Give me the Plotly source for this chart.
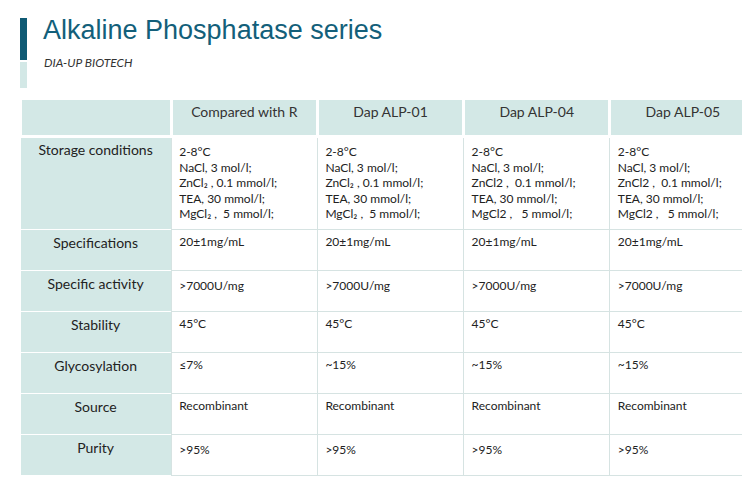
import plotly.graph_objects as go

headers = ["", "Compared with R", "Dap ALP-01", "Dap ALP-04", "Dap ALP-05"]
rows = ["Storage conditions", "Specifications", "Specific activity", "Stability",
        "Glycosylation", "Source", "Purity"]
storage_r = "2-8°C<br>NaCl, 3 mol/l;<br>ZnCl₂ , 0.1 mmol/l;<br>TEA, 30 mmol/l;<br>MgCl₂ ,  5 mmol/l;"
storage_n = "2-8°C<br>NaCl, 3 mol/l;<br>ZnCl2 ,  0.1 mmol/l;<br>TEA, 30 mmol/l;<br>MgCl2 ,   5 mmol/l;"
col_r = [storage_r, "20±1mg/mL", ">7000U/mg", "45°C", "≤7%", "Recombinant", ">95%"]
col_01 = [storage_r, "20±1mg/mL", ">7000U/mg", "45°C", "~15%", "Recombinant", ">95%"]
col_04 = [storage_n, "20±1mg/mL", ">7000U/mg", "45°C", "~15%", "Recombinant", ">95%"]
col_05 = [storage_n, "20±1mg/mL", ">7000U/mg", "45°C", "~15%", "Recombinant", ">95%"]

teal = "#d3e8e6"
W, H = 750, 486
fig = go.Figure()
fig.add_trace(go.Table(
    domain=dict(x=[12/W, 748/W], y=[0, 1-90/H]),
    columnwidth=[151, 146, 146, 146, 146],
    header=dict(values=headers, fill_color=teal, height=38,
                line=dict(color="white", width=3),
                font=dict(family="Lato", size=14, color="#333"), align="center"),
    cells=dict(values=[rows, col_r, col_01, col_04, col_05],
               fill_color=[[teal]*7] + [["white"]*7]*4,
               line=dict(color=[["white"]*7] + [["#d6e3e2"]*7]*4, width=1),
               height=41,
               font=dict(family="Lato", size=[14, 12, 12, 12, 12], color="#222"),
               align=["center", "left", "left", "left", "left"]),
))
fig.add_shape(type="rect", xref="paper", yref="paper", x0=12/W, x1=19/W,
              y0=1-52/H, y1=1-10/H, fillcolor="#0f5a74", line_width=0)
fig.add_shape(type="rect", xref="paper", yref="paper", x0=12/W, x1=19/W,
              y0=1-80/H, y1=1-54/H, fillcolor=teal, line_width=0)
fig.add_annotation(text="Alkaline Phosphatase series", xref="paper", yref="paper",
                   x=33/W, y=1-22/H, xanchor="left", yanchor="middle", showarrow=False,
                   font=dict(family="Liberation Sans", size=27, color="#135f7a"))
fig.add_annotation(text="<i>DIA-UP BIOTECH</i>", xref="paper", yref="paper",
                   x=34/W, y=1-55/H, xanchor="left", yanchor="middle", showarrow=False,
                   font=dict(family="Lato", size=12, color="#333"))
fig.update_layout(width=W, height=H, margin=dict(l=0, r=0, t=0, b=0),
                  paper_bgcolor="white")
fig.write_html("out.html")
